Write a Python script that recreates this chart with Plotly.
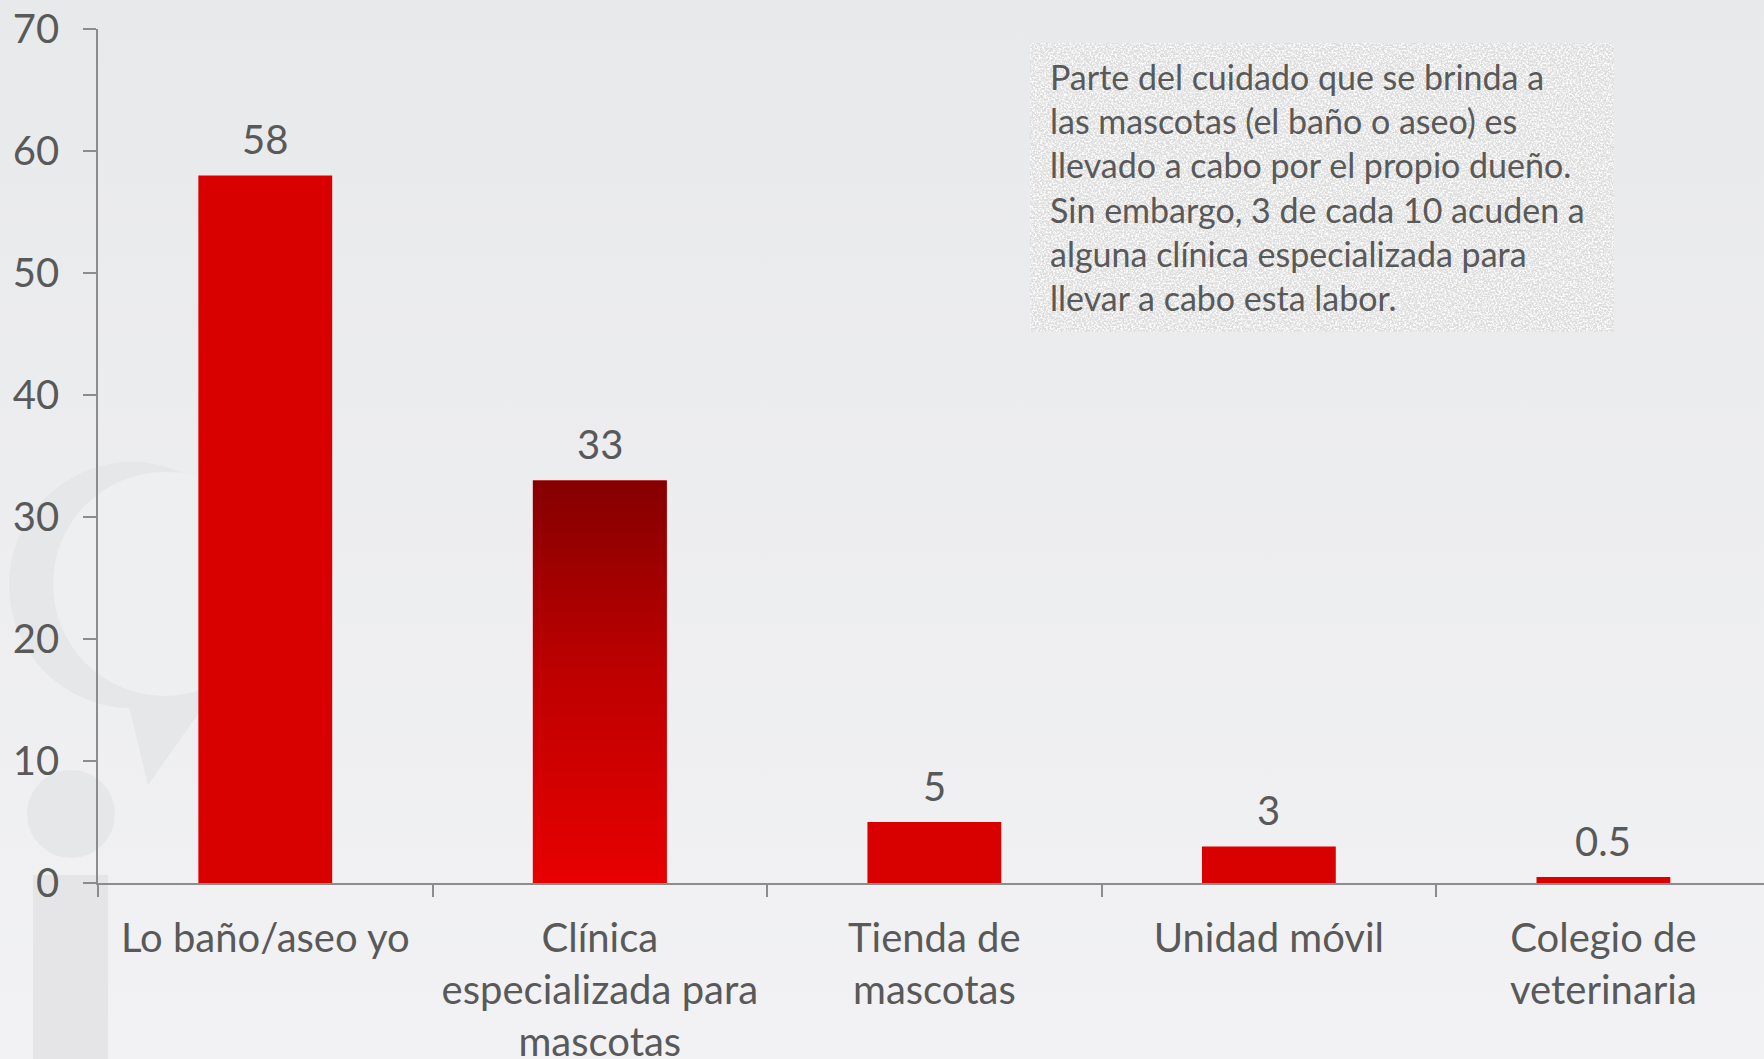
import base64
import plotly.graph_objects as go

# ---------------- data ----------------
categories = ["Lo baño/aseo yo", "Clínica<br>especializada para<br>mascotas",
              "Tienda de<br>mascotas", "Unidad móvil", "Colegio de<br>veterinaria"]
values = [58, 33, 5, 3, 0.5]
y_ticks = [0, 10, 20, 30, 40, 50, 60, 70]
note_text = ("Parte del cuidado que se brinda a<br>las mascotas (el baño o aseo) es<br>"
             "llevado a cabo por el propio dueño.<br>Sin embargo, 3 de cada 10 acuden a<br>"
             "alguna clínica especializada para<br>llevar a cabo esta labor.")

# ---------------- styling ----------------
W, H = 1764, 1059
ML, MR, MT, MB = 98, 0, 29, 176
PW, PH = W - ML - MR, H - MT - MB
FONT = "Lato"
TXT = "#595959"
AX = "#8c8c8c"
RED = "#d90000"
BAR_W = 0.4
BG_MID = "#eeeff1"


def px2x(px):
    return (px - ML) / PW


def py2y(py):
    return (H - MB - py) / PH


def svg_uri(svg):
    return "data:image/svg+xml;base64," + base64.b64encode(svg.encode()).decode()


idx = list(range(len(categories)))

fig = go.Figure()
fig.add_trace(go.Bar(x=idx, y=values, width=BAR_W,
                     marker=dict(color=[RED] * len(values), line=dict(width=0)),
                     hoverinfo="skip"))

# gradient overlay for the second bar
g = 1
fig.add_trace(go.Scatter(
    x=[g - BAR_W / 2, g + BAR_W / 2, g + BAR_W / 2, g - BAR_W / 2, g - BAR_W / 2],
    y=[0, 0, values[g], values[g], 0],
    mode="lines", line=dict(width=0), fill="toself",
    fillgradient=dict(type="vertical",
                      colorscale=[[0, "#e80000"], [0.55, "#bb0000"], [1, "#850000"]]),
    hoverinfo="skip"))

# value labels
for i, v in zip(idx, values):
    fig.add_annotation(x=i, y=v, text=f"{v:g}", showarrow=False, yshift=36, yanchor="middle",
                       font=dict(family=FONT, size=40, color=TXT))

# background gradient
bg_svg = ('<svg xmlns="http://www.w3.org/2000/svg" width="10" height="100" preserveAspectRatio="none">'
          '<defs><linearGradient id="g" x1="0" y1="0" x2="0" y2="1">'
          '<stop offset="0" stop-color="#e8e9eb"/><stop offset="1" stop-color="#f2f2f4"/>'
          '</linearGradient></defs><rect width="10" height="100" fill="url(#g)"/></svg>')
fig.add_layout_image(source=svg_uri(bg_svg), xref="paper", yref="paper", x=px2x(0), y=py2y(0),
                     sizex=W / PW, sizey=H / PH, sizing="stretch", layer="below",
                     xanchor="left", yanchor="top")

# textured note box
BX0, BX1, BY0, BY1 = 1030, 1614, 43, 332
box_svg = ('<svg xmlns="http://www.w3.org/2000/svg" width="584" height="289" viewBox="0 0 584 289" '
           'preserveAspectRatio="none">'
           '<filter id="n" x="0" y="0" width="100%" height="100%">'
           '<feTurbulence type="fractalNoise" baseFrequency="0.55" numOctaves="3" seed="7" stitchTiles="stitch"/>'
           '<feColorMatrix type="matrix" values="0 0 0 0 1  0 0 0 0 1  0 0 0 0 1  3.2 0 0 0 -1.25"/>'
           '</filter>'
           '<rect width="584" height="289" fill="#dcdcdc"/>'
           '<rect width="584" height="289" filter="url(#n)"/></svg>')
fig.add_layout_image(source=svg_uri(box_svg), xref="paper", yref="paper", x=px2x(BX0), y=py2y(BY0),
                     sizex=(BX1 - BX0) / PW, sizey=(BY1 - BY0) / PH, sizing="stretch", layer="below",
                     xanchor="left", yanchor="top")

# decorative watermark + side bar
WM = "#e6e7e9"
shapes = [
    dict(type="circle", xref="paper", yref="paper", x0=px2x(9), x1=px2x(255), y0=py2y(462), y1=py2y(708),
         line=dict(width=0), fillcolor=WM, layer="below"),
    dict(type="path", xref="paper", yref="paper",
         path=(f"M {px2x(125)},{py2y(690)} L {px2x(148)},{py2y(785)} L {px2x(215)},{py2y(690)} Z"),
         line=dict(width=0), fillcolor=WM, layer="below"),
    dict(type="circle", xref="paper", yref="paper", x0=px2x(53), x1=px2x(277), y0=py2y(472), y1=py2y(696),
         line=dict(width=0), fillcolor=BG_MID, layer="below"),
    dict(type="circle", xref="paper", yref="paper", x0=px2x(27), x1=px2x(115), y0=py2y(770), y1=py2y(858),
         line=dict(width=0), fillcolor=WM, layer="below"),
    dict(type="rect", xref="paper", yref="paper", x0=px2x(33), x1=px2x(108), y0=py2y(875), y1=py2y(H),
         line=dict(width=0), fillcolor="#e5e5e7", layer="below"),
]
fig.update_layout(shapes=shapes)

fig.add_annotation(xref="paper", yref="paper", x=px2x(1048), y=py2y(54), xanchor="left", yanchor="top",
                   align="left", showarrow=False, text=note_text,
                   font=dict(family=FONT, size=34, color=TXT))

fig.update_layout(
    width=W, height=H, autosize=False, showlegend=False,
    margin=dict(l=ML, r=MR, t=MT, b=MB, pad=0, autoexpand=False),
    paper_bgcolor=BG_MID, plot_bgcolor="rgba(0,0,0,0)",
    font=dict(family=FONT, color=TXT),
)
fig.update_xaxes(range=[-0.5, 4.48], tickmode="array", tickvals=idx, ticktext=categories, ticks="",
                 automargin=False,
                 showline=True, linecolor=AX, linewidth=1.5, showgrid=False, zeroline=False,
                 tickfont=dict(family=FONT, size=40, color=TXT), ticklabelstandoff=19,
                 minor=dict(tickmode="array", tickvals=[i - 0.5 for i in idx], ticks="outside",
                            ticklen=12, tickcolor=AX, tickwidth=1.5, showgrid=False))
fig.update_yaxes(range=[0, 70], tickmode="array", tickvals=y_ticks, ticks="outside", ticklen=13,
                 automargin=False,
                 tickcolor=AX, tickwidth=1.5, showline=True, linecolor=AX, linewidth=1.5,
                 showgrid=False, zeroline=False, ticklabelstandoff=16,
                 tickfont=dict(family=FONT, size=40, color=TXT))

fig.write_html("out.html", config={"displayModeBar": False},
               post_script="document.body.style.margin='0px';document.body.style.overflow='hidden';")
